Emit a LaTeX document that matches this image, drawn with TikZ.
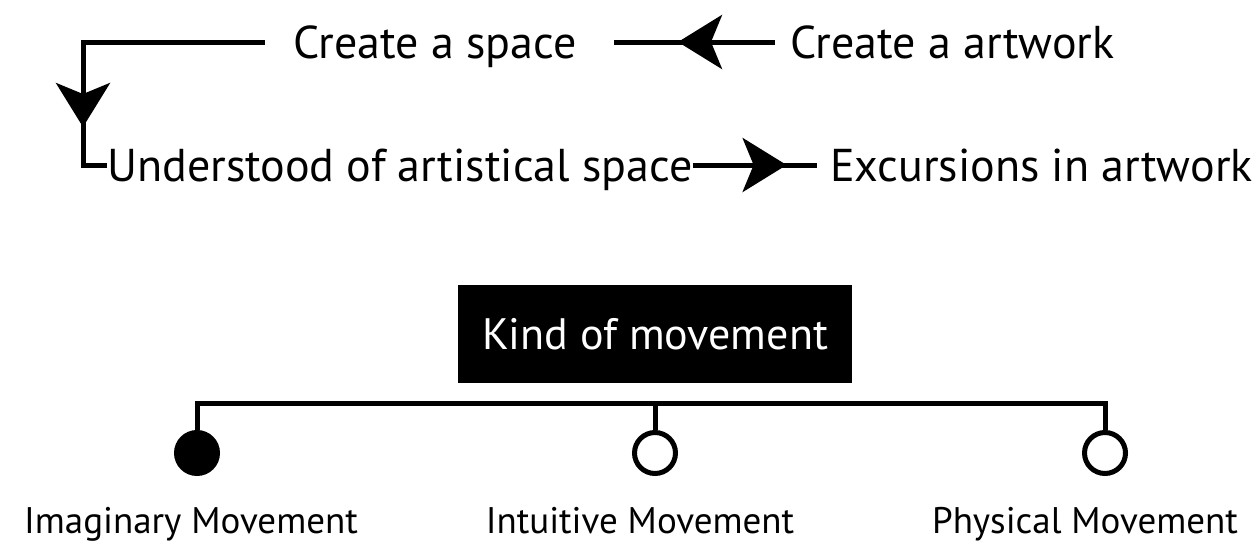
\documentclass[tikz,border=0pt]{standalone}
\usepackage{fontspec}
\setmainfont{PT Sans}
\usetikzlibrary{arrows.meta,decorations.markings}
\begin{document}
\begin{tikzpicture}[x=1pt,y=-1pt,
  toptext/.style={inner sep=0pt,anchor=base west,font=\fontsize{46}{50}\selectfont},
  lbl/.style={inner sep=0pt,anchor=base,font=\fontsize{37}{42}\selectfont},
  conn/.style={line width=5pt},
  midarrow/.style={postaction={decorate},decoration={markings,mark=at position #1 with {\arrow{Stealth[length=44pt,width=54pt,inset=11pt]}}}},
  dot/.style={circle,minimum size=41pt,inner sep=0pt,line width=5pt,draw=black},
  kbox/.style={fill=black,text=white,minimum width=394pt,minimum height=98pt,inner sep=0pt,font=\fontsize{44}{48}\selectfont}]
\useasboundingbox (0,0) rectangle (1257,554);
\coordinate (rowa) at (0,42);
\coordinate (rowb) at (0,165);
% top flow
\node[toptext] (cs) at (293,58) {Create a space};
\node[toptext] (ca) at (790,58) {Create a artwork};
\node[toptext] (us) at (107,181) {Understood of artistical space};
\node[toptext] (ex) at (830,181) {Excursions in artwork};
\coordinate (corner) at (83,42);
\draw[conn,midarrow=97pt] ([xshift=-15pt]ca.west |- rowa) -- ([xshift=37pt]cs.east |- rowa);
\draw[conn,midarrow=267pt] ([xshift=-28pt]cs.west |- rowa) -- (corner) -- (corner |- rowb) -- (us.west |- rowb);
\draw[conn,midarrow=94pt] (us.east |- rowb) -- ([xshift=-13pt]ex.west |- rowb);
% bottom tree
\node[kbox] (kind) at (655,334) {Kind of movement};
\node[dot,fill=black] (c1) at (197,453) {};
\node[dot,fill=white] (c2) at (655,453) {};
\node[dot,fill=white] (c3) at (1105,453) {};
\coordinate (b1) at (197,403);
\coordinate (b3) at (1105,403);
\draw[conn] (c1.north) -- (b1) -- (b3) -- (c3.north);
\draw[conn] (c2.north) -- (c2 |- b1);
\node[lbl] (l1) at (191,533) {Imaginary Movement};
\node[lbl] (l2) at (640,533) {Intuitive Movement};
\node[lbl] (l3) at (1085,533) {Physical Movement};
\end{tikzpicture}
\end{document}
